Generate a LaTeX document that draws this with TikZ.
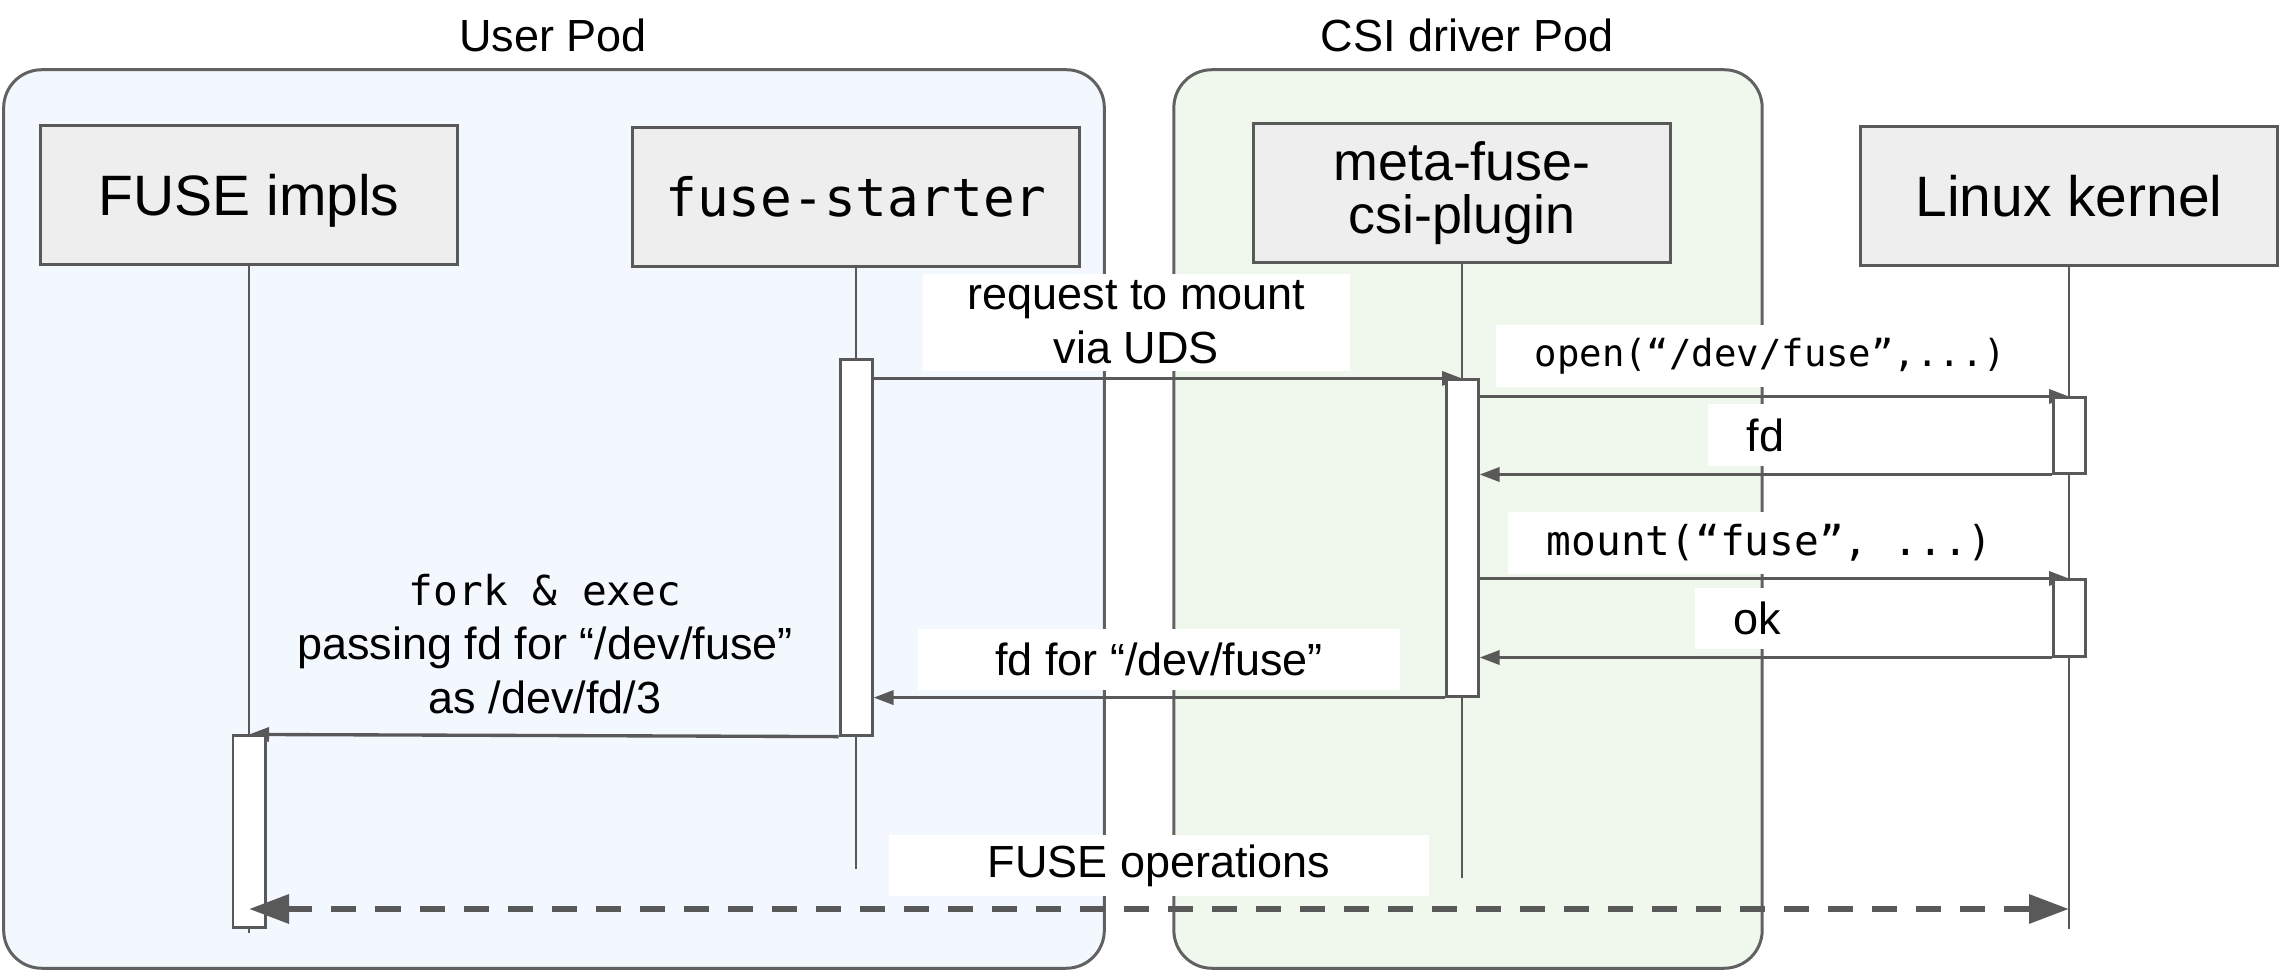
\documentclass[tikz,border=0pt]{standalone}
\usepackage{fontspec}
\setmainfont{Liberation Sans}
\setmonofont{DejaVu Sans Mono}
\usepackage{tikz}
\usetikzlibrary{
  arrows.meta,
  positioning,
  backgrounds
}
\definecolor{EdgeGray}{HTML}{595959}
\definecolor{ActorGray}{HTML}{EEEEEE}
\definecolor{UserBlue}{HTML}{F3F7FE}
\definecolor{DriverGreen}{HTML}{F0F8EE}

\begin{document}
\begin{tikzpicture}[
  x=0.01cm,
  y=-0.01cm,
  font=\fontsize{12.8}{15.4}\selectfont,
  pod/.style={
    draw=EdgeGray!95,
    line width=0.85pt,
    rounded corners=0.38cm,
    inner sep=0pt,
    minimum height=8.98cm
  },
  podtitle/.style={anchor=base,font=\fontsize{12.8}{15.4}\selectfont},
  actor/.style={
    draw=EdgeGray,
    fill=ActorGray,
    line width=0.85pt,
    minimum width=4.16cm,
    minimum height=1.39cm,
    inner sep=0pt,
    align=center,
    font=\fontsize{16.2}{18}\selectfont
  },
  life/.style={draw=EdgeGray,line width=0.6pt},
  bar/.style={draw=EdgeGray,fill=white,line width=0.85pt,minimum width=0.32cm,inner sep=0pt},
  msg/.style={draw=EdgeGray,line width=0.95pt,-{Triangle[length=0.2cm,width=0.14cm]}},
  ops/.style={
    draw=EdgeGray,
    line width=1.8pt,
    dash pattern=on 0.25cm off 0.19cm,
    {Triangle[length=0.4cm,width=0.28cm]}-{Triangle[length=0.4cm,width=0.28cm]}
  },
  tag/.style={fill=white,inner sep=0pt,align=center,minimum height=0.61cm},
  calltag/.style={tag,anchor=west,inner xsep=0.39cm},
  code/.style={font=\ttfamily\fontsize{11.7}{14}\selectfont}
]

\useasboundingbox (0,0) rectangle (2283,971);

\begin{scope}[on background layer]
\node[pod,fill=UserBlue,minimum width=11.00cm] (userpod) at (554,519) {};
\node[pod,fill=DriverGreen,minimum width=5.88cm] (csipod) at (1468,519) {};
\end{scope}

\node[podtitle] (usertitle) at (553,52) {User Pod};
\node[podtitle] (csititle) at (1467,52) {CSI driver Pod};

\node[tag,minimum width=4.27cm,minimum height=0.97cm] (mountreq) at (1136.5,322.5)
  {request to mount\\via UDS};
\node[calltag,font=\ttfamily\fontsize{10.6}{12}\selectfont] (opencall) at (1495,356)
  {open(“/dev/fuse”,...)};
\node[calltag] (fdreply) at (1707,435) {fd};
\node[calltag,code] (mountcall) at (1507,543) {mount(“fuse”, ...)};
\node[calltag] (okreply) at (1694,618.5) {ok};
\node[tag,minimum width=4.82cm] (fdpass) at (1159,659.5) {fd for “/dev/fuse”};
\node[tag,minimum width=5.40cm] (opslabel) at (1159,865.5) {FUSE operations};
\node[align=center] (forkexec) at (545,644)
  {{\ttfamily\fontsize{11.7}{14}\selectfont fork \& exec}\\passing fd for “/dev/fuse”\\as /dev/fd/3};

\node[actor,text depth=0pt] (impls) at (249,195) {FUSE impls};
\node[actor,minimum width=4.46cm,font=\ttfamily\fontsize{15}{17}\selectfont] (starter) at (856,197)
  {fuse-starter};
\node[actor,font=\fontsize{15.3}{15.1}\selectfont] (plugin) at (1462,193) {meta-fuse-\\csi-plugin};
\node[actor] (kernel) at (2069,196) {Linux kernel};

\coordinate (implsend) at (249,933);
\coordinate (starterend) at (856,869);
\coordinate (pluginend) at (1462,878);
\coordinate (kernelend) at (2069,929);
\draw[life] (impls.south) -- (implsend);
\draw[life] (starter.south) -- (starterend);
\draw[life] (plugin.south) -- (pluginend);
\draw[life] (kernel.south) -- (kernelend);

\node[bar,minimum height=3.75cm] (starterbar) at (856,547.5) {};
\node[bar,minimum height=3.16cm] (pluginbar) at (1462,538) {};
\node[bar,minimum height=0.75cm] (kernelopen) at (2069,435.5) {};
\node[bar,minimum height=0.76cm] (kernelmount) at (2069,618) {};
\node[bar,minimum height=1.91cm] (implsbar) at (249,831.5) {};

\begin{scope}[on background layer]
\draw[msg] (starterbar.east |- pluginbar.north) -- (pluginbar.north);
\draw[msg] (pluginbar.east |- kernelopen.north) -- (kernelopen.north);
\draw[msg] (kernelopen.south west) -- (pluginbar.east |- kernelopen.south west);
\draw[msg] (pluginbar.east |- kernelmount.north) -- (kernelmount.north);
\draw[msg] (kernelmount.south west) -- (pluginbar.east |- kernelmount.south west);
\draw[msg] (pluginbar.south west) -- (starterbar.east |- pluginbar.south west);
\draw[msg] (starterbar.south west) -- (implsbar.north);
\end{scope}

\coordinate (opsrow) at (0,909);
\draw[ops] (implsbar |- opsrow) -- (kernel |- opsrow);
\end{tikzpicture}
\end{document}
